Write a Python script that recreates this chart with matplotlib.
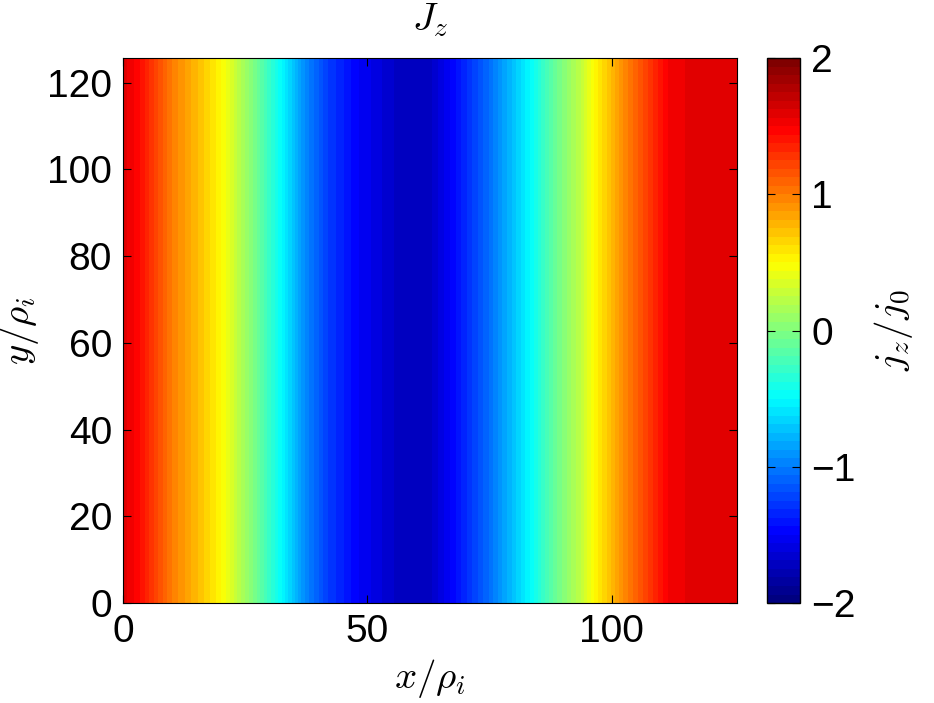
import numpy as np
import matplotlib
matplotlib.use('Agg')
import matplotlib.pyplot as plt
from matplotlib.colors import LinearSegmentedColormap

plt.rcParams['font.family'] = ['Liberation Sans', 'DejaVu Sans']
plt.rcParams['mathtext.fontset'] = 'cm'

L = 125.66

# Jz profile across x, uniform along y
x_pts = [0, 3, 10, 18.4, 20.5, 26.6, 32.5, 37.2, 42, 48.3, 56, 59, 63, 67,
         74.9, 83.3, 88, 93.7, 96.4, 103.3, 111.5, 116, 121, 125.66]
jz_pts = [1.6, 1.47, 1.0, 0.6, 0.48, 0.0, -0.5, -0.94, -1.25, -1.5, -1.7, -1.72,
          -1.7, -1.5, -1.06, -0.5, -0.12, 0.25, 0.5, 1.0, 1.5, 1.58, 1.61, 1.6]
y_pts = [0, L]

X, Y = np.meshgrid(x_pts, y_pts)
Z = np.tile(jz_pts, (len(y_pts), 1))

# MATLAB-style jet with 64 entries
jet64 = LinearSegmentedColormap.from_list(
    'mjet', [(0, (0, 0, 0.5)), (0.125, (0, 0, 1)), (0.375, (0, 1, 1)),
             (0.625, (1, 1, 0)), (0.875, (1, 0, 0)), (1, (0.5, 0, 0))], N=64)

fig = plt.figure(figsize=(9.34, 7.03), dpi=100)
ax = fig.add_axes([0.1317, 0.1422, 0.6573, 0.7753])
cax = fig.add_axes([0.8212, 0.1422, 0.0353, 0.7753])

levels = np.linspace(-2, 2, 65)
cs = ax.contourf(X, Y, Z, levels=levels, cmap=jet64, vmin=-2, vmax=2)

ax.set_xlim(0, L)
ax.set_ylim(0, L)
ax.set_xticks([0, 50, 100])
ax.set_yticks(np.arange(0, 121, 20))
ax.tick_params(direction='in', top=True, right=True, length=6, labelsize=28, pad=8)
ax.set_xlabel(r'$x/\rho_i$', fontsize=28, labelpad=5)
ax.set_ylabel(r'$y/\rho_i$', fontsize=28, labelpad=4)
ax.set_title(r'$J_z$', fontsize=28, pad=20)

cb = fig.colorbar(cs, cax=cax, ticks=[-2, -1, 0, 1, 2])
cb.ax.tick_params(direction='in', left=True, right=True, length=6, labelsize=28, pad=8)
cb.set_label(r'$j_z/j_0$', fontsize=28, labelpad=12)
cb.outline.set_linewidth(1)

fig.savefig('out.png', dpi=100)
